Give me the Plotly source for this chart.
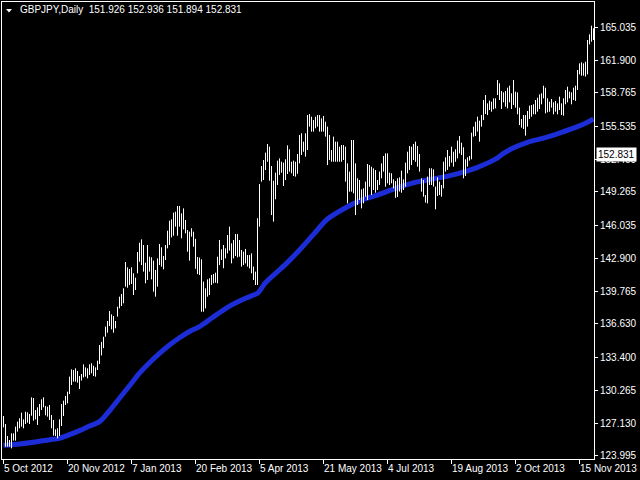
import plotly.graph_objects as go

# ---------------- data ----------------
symbol_title = "GBPJPY,Daily  151.926 152.936 151.894 152.831"
last_price = 152.831

date_labels = ["5 Oct 2012", "20 Nov 2012", "7 Jan 2013", "20 Feb 2013", "5 Apr 2013",
               "21 May 2013", "4 Jul 2013", "19 Aug 2013", "2 Oct 2013", "15 Nov 2013"]
date_label_bars = [0, 32, 64, 96, 128, 160, 192, 224, 256, 288]

price_ticks = [123.995, 127.130, 130.265, 133.400, 136.630, 139.765, 142.900,
               146.035, 149.265, 152.400, 155.535, 158.765, 161.900, 165.035]
price_tick_text = ["123.995", "127.130", "130.265", "133.400", "136.630", "139.765", "142.900",
                   "146.035", "149.265", "152.400", "155.535", "158.765", "161.900", "165.035"]

highs = [
    127.80, 127.03, 125.88, 125.50, 126.14, 126.14, 126.78, 127.26, 127.58, 128.12,
    127.48, 128.21, 128.15, 127.99, 129.59, 129.52, 128.37, 128.63, 128.95, 129.40,
    129.59, 128.76, 128.69, 128.85, 127.90, 127.42, 126.52, 126.62, 127.48, 128.95,
    129.27, 129.72, 130.13, 131.57, 132.27, 132.21, 132.37, 132.11, 131.63, 131.82,
    132.75, 132.46, 132.37, 132.75, 132.85, 132.62, 132.46, 133.10, 134.60, 134.90,
    135.40, 136.36, 136.90, 137.86, 137.54, 137.38, 136.90, 138.27, 139.23, 139.49,
    140.03, 142.55, 142.04, 141.88, 142.04, 141.47, 141.05, 143.51, 144.40, 144.72,
    144.18, 142.49, 144.18, 143.06, 143.00, 142.68, 141.79, 142.90, 144.28, 143.96,
    143.13, 144.18, 145.55, 146.51, 146.64, 147.28, 147.37, 147.92, 147.92, 147.21,
    147.69, 146.57, 145.62, 145.46, 145.78, 145.46, 144.77, 143.03, 142.98, 142.81,
    140.67, 140.03, 140.89, 140.99, 141.31, 141.40, 141.53, 143.06, 144.66, 143.77,
    144.18, 143.86, 145.14, 145.94, 144.34, 144.66, 145.23, 145.23, 144.66, 143.70,
    143.54, 143.80, 143.22, 143.22, 143.38, 142.11, 141.63, 146.74, 150.02, 151.75,
    152.32, 153.03, 153.86, 153.60, 151.75, 150.34, 151.11, 152.26, 152.48, 152.16,
    152.07, 152.39, 153.73, 153.35, 152.16, 152.26, 152.16, 152.90, 154.72, 154.88,
    154.08, 154.88, 156.63, 156.73, 156.47, 156.15, 156.47, 156.63, 156.63, 156.31,
    156.54, 155.99, 155.52, 154.72, 153.28, 154.56, 154.08, 154.08, 153.60, 153.76,
    153.76, 153.60, 152.00, 151.21, 154.24, 154.24, 152.00, 150.57, 150.41, 149.51,
    149.61, 150.25, 151.94, 151.84, 151.68, 151.52, 151.36, 150.41, 151.21, 152.00,
    152.71, 152.96, 152.96, 151.11, 151.05, 150.47, 150.30, 150.57, 150.66, 151.30,
    150.47, 152.07, 153.12, 153.66, 153.60, 153.86, 154.08, 153.66, 152.90, 150.57,
    150.41, 148.97, 150.73, 151.53, 151.53, 151.43, 149.77, 150.66, 150.25, 149.93,
    152.16, 152.58, 153.28, 152.71, 153.60, 153.12, 153.35, 154.18, 154.62, 153.98,
    153.54, 152.39, 152.58, 152.71, 154.94, 155.52, 155.99, 156.47, 156.09, 156.63,
    158.07, 158.55, 157.75, 158.01, 157.91, 158.23, 158.23, 159.99, 159.67, 158.93,
    158.80, 158.93, 159.25, 159.44, 158.71, 159.99, 158.87, 158.80, 157.34, 156.25,
    156.63, 156.63, 157.02, 157.53, 157.59, 157.66, 158.07, 158.29, 158.61, 158.71,
    159.44, 159.25, 158.23, 157.91, 158.17, 157.85, 157.98, 157.75, 158.39, 157.75,
    158.23, 159.03, 159.35, 158.87, 158.80, 159.25, 159.44, 160.94, 161.58, 161.68,
    161.58, 161.74, 163.82, 164.36, 165.19, 164.94,
]

lows = [
    126.71, 124.86, 124.86, 124.86, 124.70, 125.44, 125.44, 126.30, 126.62, 126.78,
    126.62, 127.03, 127.16, 127.03, 127.83, 127.35, 127.48, 126.94, 127.80, 128.37,
    128.63, 127.86, 127.74, 127.42, 126.62, 125.92, 125.88, 125.66, 125.88, 126.84,
    127.80, 128.85, 129.01, 129.91, 130.77, 131.09, 131.09, 130.99, 130.39, 131.19,
    131.50, 131.57, 131.41, 131.73, 131.89, 131.63, 131.57, 132.21, 132.78, 133.60,
    134.30, 135.40, 135.78, 136.42, 136.10, 135.78, 136.20, 137.32, 138.11, 138.34,
    138.59, 140.19, 140.09, 140.35, 140.45, 139.39, 139.87, 141.47, 142.58, 142.26,
    141.63, 140.51, 140.83, 141.63, 140.89, 139.71, 139.23, 140.19, 142.26, 142.10,
    141.85, 142.74, 143.86, 144.18, 144.91, 145.07, 145.94, 145.07, 145.94, 144.82,
    145.68, 145.30, 143.54, 142.68, 144.98, 144.02, 141.90, 141.39, 141.31, 137.79,
    137.79, 138.11, 139.23, 139.39, 140.35, 140.51, 140.57, 140.51, 142.26, 142.74,
    141.95, 142.90, 143.38, 143.64, 142.42, 142.90, 143.13, 143.00, 143.06, 142.11,
    142.26, 142.42, 142.11, 141.95, 141.47, 140.83, 140.35, 140.35, 145.94, 150.25,
    150.41, 151.36, 152.16, 150.34, 147.05, 146.42, 148.56, 149.93, 150.89, 151.11,
    149.83, 150.41, 150.98, 151.21, 151.05, 150.79, 150.73, 151.00, 152.00, 152.80,
    153.12, 152.64, 153.28, 155.52, 155.04, 155.04, 155.36, 155.52, 155.04, 155.04,
    155.04, 154.56, 151.84, 152.32, 152.16, 152.16, 152.16, 152.16, 152.16, 152.16,
    152.32, 150.25, 148.17, 149.29, 149.29, 149.13, 147.05, 148.01, 148.49, 147.69,
    148.17, 148.81, 148.49, 149.77, 148.97, 149.45, 149.19, 149.45, 149.93, 150.57,
    151.21, 149.77, 150.09, 149.93, 150.09, 149.61, 148.70, 148.78, 149.30, 149.19,
    149.45, 149.77, 151.05, 151.37, 151.84, 152.32, 152.16, 151.68, 151.21, 149.29,
    148.81, 148.24, 148.17, 149.93, 149.93, 149.77, 147.60, 148.87, 148.97, 148.81,
    149.61, 151.21, 151.37, 151.69, 152.07, 151.69, 152.16, 152.48, 152.96, 152.80,
    150.57, 150.79, 151.69, 152.26, 152.39, 154.56, 154.62, 155.04, 154.08, 155.52,
    156.15, 156.73, 156.63, 157.11, 156.95, 157.18, 157.27, 158.55, 158.07, 157.21,
    157.85, 157.43, 157.27, 157.85, 157.21, 157.59, 157.34, 156.70, 155.67, 155.42,
    155.29, 154.65, 155.52, 156.25, 156.47, 156.70, 156.70, 156.95, 157.21, 157.66,
    158.23, 156.79, 156.89, 156.95, 157.34, 156.70, 156.95, 156.70, 157.11, 156.63,
    156.57, 157.66, 157.85, 158.23, 157.66, 158.07, 157.98, 159.03, 160.53, 160.40,
    160.40, 160.31, 160.53, 163.40, 163.66, 163.82,
]

ma_bars = [0, 8, 15, 23, 28, 33, 38, 43, 48, 53, 58, 63, 68, 73, 78, 83, 88, 93, 98,
           104, 112, 121, 125, 127, 131, 137, 142, 148, 155, 162, 172, 179, 187, 196,
           204, 212, 221, 229, 237, 246, 250, 254, 262, 271, 279, 287, 292, 295]
ma_values = [124.99, 125.12, 125.28, 125.53, 125.66, 126.01, 126.40, 126.84, 127.26,
             128.30, 129.50, 130.70, 131.90, 132.90, 133.80, 134.60, 135.30, 135.90, 136.36,
             137.16, 138.21, 139.07, 139.39, 139.55, 140.57, 141.63, 142.52, 143.70, 145.20,
             146.67, 147.85, 148.49, 148.97, 149.60, 150.09, 150.41, 150.73, 151.11, 151.62,
             152.40, 152.95, 153.40, 154.02, 154.46, 154.97, 155.52, 155.93, 156.25]

# ---------------- figure ----------------
W, H = 640, 480
ML, MR, MT, MB = 2, 46, 2, 21
PW, PH = W - ML - MR, H - MT - MB


def px_x(p):
    return (p - ML) / PW


def px_y(p):
    return 1 - (p - MT) / PH


bx, by = [], []
for i, (h, l) in enumerate(zip(highs, lows)):
    bx += [i, i, None]
    by += [l, h, None]

fig = go.Figure()
fig.add_trace(go.Scatter(x=ma_bars, y=ma_values, mode="lines",
                         line=dict(color="rgb(28,45,215)", width=5, shape="spline",
                                   smoothing=0.8),
                         hoverinfo="skip", showlegend=False))
fig.add_trace(go.Scatter(x=bx, y=by, mode="lines", line=dict(color="white", width=1),
                         connectgaps=False, hoverinfo="skip", showlegend=False))

font = dict(family="Liberation Sans, Arial, sans-serif", size=10, color="white")

fig.update_layout(
    width=W, height=H,
    margin=dict(l=ML, r=MR, t=MT, b=MB, pad=0, autoexpand=False),
    paper_bgcolor="black", plot_bgcolor="black",
    font=font,
    showlegend=False,
    hovermode=False,
    xaxis=dict(range=[-0.75, len(highs) - 0.75], showgrid=False, zeroline=False,
               showline=True, mirror=True, linecolor="white", linewidth=1,
               tickmode="array", tickvals=date_label_bars, showticklabels=False,
               ticks="outside", ticklen=4, tickcolor="white", tickwidth=1),
    yaxis=dict(range=[123.681, 167.459], side="right", showgrid=False, zeroline=False,
               showline=True, mirror=True, linecolor="white", linewidth=1,
               tickmode="array", tickvals=price_ticks, ticktext=price_tick_text,
               ticks="outside", ticklen=3, tickcolor="white", tickwidth=1,
               tickfont=font),
)

annotations = []
for b, lab in zip(date_label_bars, date_labels):
    annotations.append(dict(x=b - 0.75, y=0, xref="x", yref="paper", text=lab,
                            xanchor="left", yanchor="top", yshift=-2, showarrow=False,
                            font=font))
annotations.append(dict(x=px_x(18), y=px_y(10), xref="paper", yref="paper",
                        text=symbol_title, xanchor="left", yanchor="middle",
                        showarrow=False, font=font))
annotations.append(dict(x=1, y=last_price, xref="paper", yref="y", text=str(last_price),
                        xanchor="left", yanchor="middle", xshift=2, showarrow=False,
                        bgcolor="white", borderpad=1,
                        font=dict(family="Liberation Sans, Arial, sans-serif", size=10,
                                  color="black")))
fig.update_layout(annotations=annotations)

fig.add_shape(type="path", xref="paper", yref="paper",
              path="M {} {} L {} {} L {} {} Z".format(px_x(6), px_y(9), px_x(12), px_y(9),
                                                      px_x(9), px_y(12.5)),
              fillcolor="white", line=dict(color="white", width=0))

fig.write_html("out.html",
               config={"displayModeBar": False, "staticPlot": True},
               post_script="document.body.style.margin='0';document.body.style.overflow='hidden';")
